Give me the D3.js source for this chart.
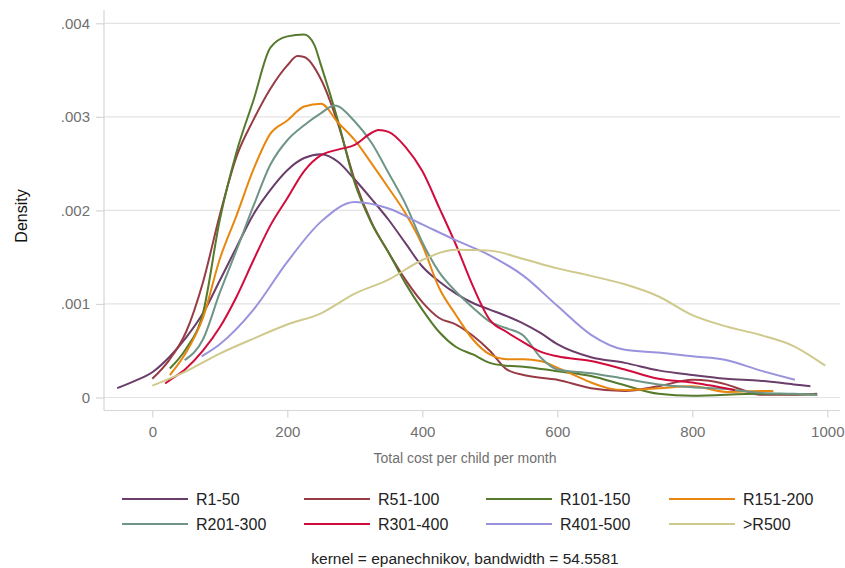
<!DOCTYPE html>
<html><head><meta charset="utf-8">
<script src="https://cdn.jsdelivr.net/npm/d3@7"></script>
<style>
body{margin:0;background:#fff;}
text{font-family:"Liberation Sans",Arial,sans-serif;}
</style></head>
<body><svg id="c" width="845" height="568"></svg>
<script>
// ---- data ----
const seriesNames = ["R1-50","R51-100","R101-150","R151-200","R201-300","R301-400","R401-500",">R500"];
const seriesColors = ["#6a3d6a","#973c45","#557a2b","#e8870f","#6f9586","#d10c3c","#9993dd","#cfc98c"];
const xTicks = [0,200,400,600,800,1000];
const yTicks = [0,0.001,0.002,0.003,0.004];
const yTickLabels = ["0",".001",".002",".003",".004"];

const r1_50 = [[-52,.0001],[-25,.00018],[0,.00027],[25,.00043],[50,.00064],[75,.0009],[100,.00125],[125,.00161],[150,.00196],[175,.00222],[200,.00243],[225,.00256],[250,.0026],[275,.00252],[300,.00233],[325,.00212],[350,.0019],[375,.00165],[400,.0014],[425,.00124],[450,.00111],[475,.00101],[500,.00094],[525,.00087],[550,.00079],[575,.00069],[600,.00057],[650,.00043],[700,.00037],[750,.00029],[800,.00024],[850,.0002],[900,.00018],[950,.00014],[975,.00012]];
const r51_100 = [[0,.0002],[25,.0004],[50,.0007],[75,.00123],[100,.00195],[125,.00258],[150,.00297],[175,.0033],[200,.00355],[215,.00365],[225,.00364],[250,.0034],[275,.00293],[300,.00232],[325,.00187],[350,.00155],[375,.00126],[400,.00102],[425,.00085],[450,.00078],[475,.00066],[500,.0005],[525,.0003],[550,.00024],[600,.00019],[650,.0001],[700,.00007],[750,.00012],[800,.00019],[825,.00018],[850,.00014],[875,.00008],[900,.00003],[950,.00003],[985,.00004]];
const r101_150 = [[26,.00031],[50,.00052],[75,.0009],[100,.0019],[125,.00263],[150,.00318],[175,.00374],[200,.00386],[225,.00388],[240,.00377],[250,.00355],[275,.00296],[300,.00229],[325,.00186],[350,.00155],[375,.00122],[400,.00094],[425,.0007],[450,.00054],[475,.00046],[500,.00037],[525,.00034],[550,.00033],[600,.00028],[650,.00023],[700,.00013],[750,.00004],[800,.00002],[900,.00004],[985,.00003]];
const r151_200 = [[26,.00024],[50,.00048],[75,.00085],[100,.00148],[125,.00195],[150,.00244],[175,.00282],[200,.00296],[225,.00311],[250,.00314],[275,.00294],[300,.00275],[325,.0025],[350,.00224],[375,.00197],[400,.00163],[425,.00117],[450,.00088],[475,.00062],[500,.00046],[525,.00041],[550,.00041],[575,.00039],[600,.00032],[625,.00024],[650,.00016],[675,.0001],[700,.00008],[750,.0001],[800,.00012],[850,.00006],[900,.00007],[920,.00007]];
const r201_300 = [[48,.0004],[75,.00062],[100,.00112],[125,.00158],[150,.00205],[175,.00249],[200,.00275],[225,.00291],[250,.00304],[270,.00312],[300,.00295],[325,.00272],[350,.0024],[375,.00207],[400,.00166],[425,.00134],[450,.00113],[475,.00096],[500,.00081],[525,.00074],[550,.00066],[575,.00043],[600,.0003],[650,.00026],[700,.0002],[750,.00014],[800,.00011],[850,.00009],[900,.00005],[950,.00004],[985,.00003]];
const r301_400 = [[19,.00015],[25,.00018],[50,.00031],[75,.0005],[100,.00075],[125,.00108],[150,.00147],[175,.00184],[200,.00213],[225,.00242],[250,.00259],[275,.00265],[300,.0027],[325,.00283],[335,.00286],[350,.00284],[375,.00268],[400,.00242],[425,.00203],[450,.00163],[475,.00119],[500,.00083],[525,.0007],[550,.00059],[575,.00049],[600,.00044],[650,.00039],[700,.0003],[750,.0002],[800,.00016],[825,.00013],[863,.00008]];
const r401_500 = [[73,.00044],[100,.00057],[150,.00094],[200,.00145],[250,.00188],[300,.00209],[350,.00202],[400,.00185],[450,.00168],[500,.00152],[550,.0013],[600,.00098],[650,.00067],[700,.00051],[750,.00048],[800,.00044],[850,.0004],[900,.00029],[952,.00019]];
const rOver500 = [[0,.000126],[50,.00028],[100,.00047],[150,.00063],[200,.00078],[250,.0009],[300,.00111],[350,.00126],[400,.00147],[450,.00158],[500,.00157],[550,.00148],[600,.00138],[650,.0013],[700,.00121],[750,.00108],[800,.00088],[850,.00076],[900,.00067],[950,.00055],[997,.00034]];
const seriesData = [r1_50,r51_100,r101_150,r151_200,r201_300,r301_400,r401_500,rOver500];

// ---- chart ----
const svg = d3.select("#c");
const plotL = 104, plotR = 840, plotB = 410.5, plotT = 10;
const x = d3.scaleLinear().domain([0,1000]).range([152.3,827.3]);
const y = d3.scaleLinear().domain([0,0.004]).range([397.5,23.3]);

// gridlines
svg.append("g").selectAll("line").data(yTicks).join("line")
  .attr("x1",plotL).attr("x2",plotR).attr("y1",d=>y(d)).attr("y2",d=>y(d))
  .attr("stroke","#e3e3e3").attr("stroke-width",1.2);

// axes
const yAxis = d3.axisLeft(y).tickValues(yTicks).tickFormat((d,i)=>yTickLabels[i]).tickSize(8).tickPadding(6);
const gy = svg.append("g").attr("transform",`translate(${plotL},0)`).call(yAxis);
gy.select(".domain").remove();
gy.selectAll(".tick line").attr("stroke","#d6d6d6").attr("stroke-width",1.2);
gy.selectAll(".tick text").attr("fill","#707070").attr("font-size",15).style("font-family","Liberation Sans, Arial, sans-serif");

const xAxis = d3.axisBottom(x).tickValues(xTicks).tickFormat(d3.format("d")).tickSize(7).tickPadding(9);
const gx = svg.append("g").attr("transform",`translate(0,${plotB})`).call(xAxis);
gx.select(".domain").remove();
gx.selectAll(".tick line").attr("stroke","#d6d6d6").attr("stroke-width",1.2);
gx.selectAll(".tick text").attr("fill","#707070").attr("font-size",15).style("font-family","Liberation Sans, Arial, sans-serif");

svg.append("line").attr("x1",plotL).attr("x2",plotL).attr("y1",plotT).attr("y2",plotB)
  .attr("stroke","#d6d6d6").attr("stroke-width",1.2);
svg.append("line").attr("x1",plotL).attr("x2",plotR).attr("y1",plotB).attr("y2",plotB)
  .attr("stroke","#d6d6d6").attr("stroke-width",1.2);

// curves
const line = d3.line().x(d=>x(d[0])).y(d=>y(d[1])).curve(d3.curveMonotoneX);
svg.append("g").selectAll("path").data(seriesData).join("path")
  .attr("d",line).attr("fill","none")
  .attr("stroke",(d,i)=>seriesColors[i]).attr("stroke-width",2);

// axis titles
svg.append("text").attr("x",465).attr("y",463).attr("text-anchor","middle")
  .attr("fill","#707070").attr("font-size",14).text("Total cost per child per month");
svg.append("text").attr("transform","translate(27,216) rotate(-90)").attr("text-anchor","middle")
  .attr("fill","#111").attr("font-size",16).text("Density");

// legend
const legX = [122,304,486,669];
const legY = [499,524];
const lg = svg.append("g");
seriesNames.forEach((n,i)=>{
  const cx = legX[i%4], cy = legY[Math.floor(i/4)];
  lg.append("line").attr("x1",cx).attr("x2",cx+66).attr("y1",cy).attr("y2",cy)
    .attr("stroke",seriesColors[i]).attr("stroke-width",2);
  lg.append("text").attr("x",cx+74).attr("y",cy).attr("dy","0.36em")
    .attr("fill","#222").attr("font-size",16).text(n);
});

// note
svg.append("text").attr("x",465).attr("y",558).attr("dy","0.36em").attr("text-anchor","middle")
  .attr("fill","#222").attr("font-size",15.5).text("kernel = epanechnikov, bandwidth = 54.5581");
</script></body></html>
